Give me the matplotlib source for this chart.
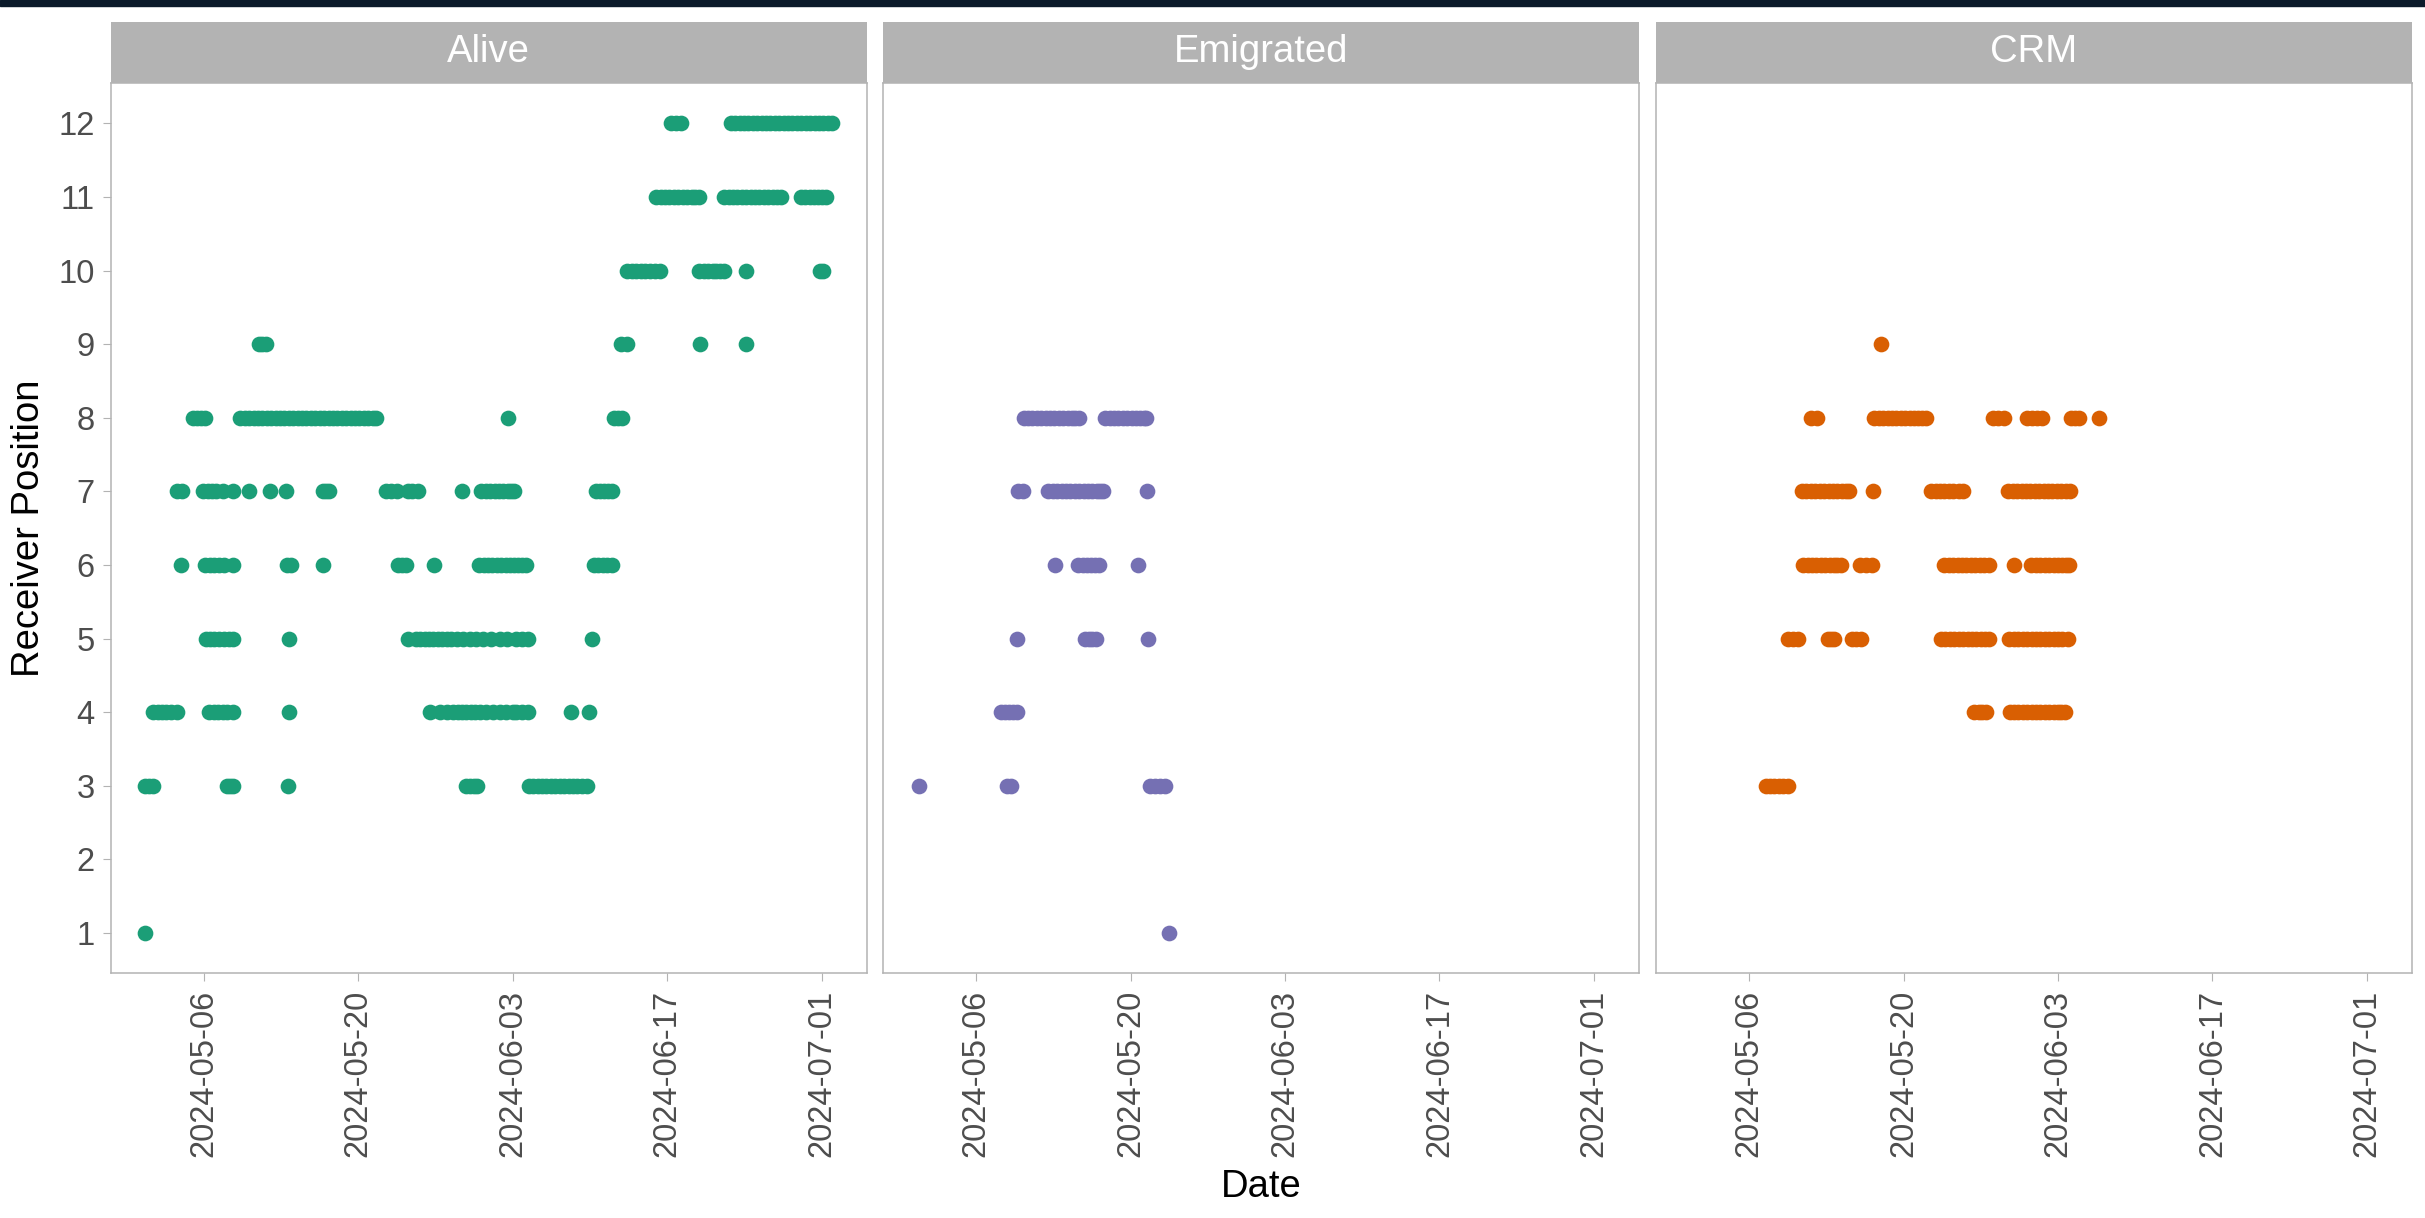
import pandas as pd
import matplotlib
matplotlib.use("Agg")
import matplotlib.pyplot as plt
import matplotlib.dates as mdates
from matplotlib.patches import Rectangle

plt.rcParams["font.family"] = ["Liberation Sans", "DejaVu Sans"]

# detection times, as days after 2024-05-01 00:00, grouped by receiver position
alive_rx1 = [-0.32]
alive_rx3 = [-0.3, 0.05, 0.43, 7.07, 7.35, 7.6, 12.65, 28.78, 29.15, 29.5, 29.8,
             34.46, 34.85, 35.25, 35.65, 36.05, 36.45, 36.85, 37.25, 37.65, 38.05,
             38.45, 38.85, 39.25, 39.77]
alive_rx4 = [0.43, 0.8, 1.2, 1.6, 2.0, 2.55, 5.5, 5.9, 6.3, 6.7, 7.1, 7.6, 12.68,
             25.47, 26.38, 27.0, 27.58, 28.0, 28.4, 28.8, 29.2, 29.6, 30.0, 30.6,
             31.2, 31.8, 32.4, 33.0, 33.3, 33.8, 34.34, 38.29, 39.95]
alive_rx5 = [5.15, 5.55, 5.95, 6.35, 6.8, 7.25, 7.65, 12.68, 23.54, 24.2, 24.6, 25.0,
             25.4, 25.8, 26.2, 26.6, 27.0, 27.4, 27.9, 28.5, 29.1, 29.7, 30.3, 31.0,
             31.8, 32.5, 33.3, 33.8, 34.34, 40.16]
alive_rx6 = [2.96, 5.14, 5.55, 5.95, 6.35, 6.8, 7.67, 12.5, 12.9, 15.82, 22.63, 23.0,
             23.36, 25.83, 29.93, 30.35, 30.75, 31.15, 31.55, 31.95, 32.35, 32.75,
             33.15, 33.5, 33.85, 34.22, 40.34, 40.75, 41.15, 41.55, 41.97]
alive_rx7 = [2.57, 3.05, 4.96, 5.35, 5.71, 6.1, 6.77, 7.67, 9.09, 10.99, 12.44, 15.76,
             16.05, 16.33, 21.55, 21.95, 22.46, 23.5, 23.9, 24.41, 28.37, 30.15, 30.55,
             30.95, 31.35, 31.75, 32.15, 32.55, 32.85, 33.13, 40.5, 40.9, 41.3, 41.65,
             42.03]
alive_rx8 = [4.0, 4.4, 4.75, 5.1, 8.3, 8.7, 9.1, 9.5, 9.9, 10.3, 10.7, 11.1, 11.5,
             11.9, 12.3, 12.7, 13.1, 13.5, 13.9, 14.3, 14.7, 15.1, 15.5, 15.9, 16.3,
             16.7, 17.1, 17.5, 17.9, 18.3, 18.7, 19.1, 19.5, 19.9, 20.3, 20.6, 32.56,
             42.15, 42.5, 42.87]
alive_rx9 = [10.02, 10.3, 10.6, 42.85, 43.36, 49.99, 54.13]
alive_rx10 = [43.36, 43.8, 44.2, 44.6, 45.0, 45.4, 45.85, 46.35, 49.9, 50.3, 50.7,
              51.1, 51.45, 51.8, 52.14, 54.13, 60.8, 61.14]
alive_rx11 = [45.99, 46.4, 46.8, 47.2, 47.6, 48.0, 48.4, 48.8, 49.2, 49.55, 49.88,
              52.17, 52.55, 52.95, 53.35, 53.75, 54.15, 54.55, 54.95, 55.35, 55.75,
              56.15, 56.55, 56.95, 57.35, 59.13, 59.5, 59.9, 60.3, 60.7, 61.05, 61.37]
alive_rx12 = [47.37, 47.8, 48.21, 52.77, 53.15, 53.55, 53.95, 54.35, 54.75, 55.15,
              55.55, 55.95, 56.35, 56.75, 57.15, 57.55, 57.95, 58.35, 58.75, 59.15,
              59.55, 59.95, 60.35, 60.75, 61.15, 61.55, 61.97]

emig_rx1 = [22.53]
emig_rx3 = [-0.13, 7.77, 8.19, 20.78, 21.2, 21.65, 22.11]
emig_rx4 = [7.23, 7.6, 8.0, 8.35, 8.71]
emig_rx5 = [8.68, 14.87, 15.2, 15.55, 15.86, 20.6]
emig_rx6 = [12.18, 14.26, 14.65, 15.05, 15.45, 15.8, 16.13, 19.64]
emig_rx7 = [8.77, 9.22, 11.54, 11.95, 12.35, 12.75, 13.15, 13.55, 13.95, 14.35,
            14.75, 15.15, 15.55, 15.95, 16.25, 16.52, 20.45]
emig_rx8 = [9.31, 9.7, 10.1, 10.5, 10.9, 11.3, 11.7, 12.1, 12.5, 12.9, 13.3, 13.7,
            14.0, 14.33, 16.7, 17.1, 17.5, 17.9, 18.3, 18.7, 19.1, 19.5, 19.9, 20.2,
            20.4]

crm_rx3 = [6.54, 6.9, 7.3, 7.7, 8.1, 8.53]
crm_rx4 = [25.39, 25.8, 26.1, 26.45, 28.62, 29.0, 29.4, 29.8, 30.2, 30.6, 31.0, 31.4,
           31.8, 32.2, 32.6, 33.0, 33.3, 33.6]
crm_rx5 = [8.56, 8.95, 9.41, 12.12, 12.45, 12.72, 14.29, 14.7, 15.16, 22.38, 22.8,
           23.2, 23.6, 24.0, 24.4, 24.8, 25.2, 25.6, 26.0, 26.35, 26.72, 28.6, 29.0,
           29.4, 29.8, 30.2, 30.6, 31.0, 31.4, 31.8, 32.2, 32.6, 33.0, 33.4, 33.9]
crm_rx6 = [9.89, 10.3, 10.7, 11.1, 11.5, 11.9, 12.3, 12.7, 13.0, 13.3, 15.05, 15.6,
           16.16, 22.68, 23.1, 23.5, 23.9, 24.3, 24.7, 25.1, 25.5, 25.9, 26.3, 26.72,
           28.98, 30.58, 31.0, 31.4, 31.8, 32.2, 32.6, 33.0, 33.4, 33.7, 34.02]
crm_rx7 = [9.8, 10.2, 10.6, 11.0, 11.4, 11.8, 12.2, 12.6, 13.0, 13.4, 13.75, 14.05,
           16.22, 21.47, 21.9, 22.3, 22.7, 23.1, 23.5, 24.0, 24.39, 28.47, 28.9, 29.3,
           29.7, 30.1, 30.5, 30.9, 31.3, 31.7, 32.1, 32.5, 32.9, 33.3, 33.7, 34.05]
crm_rx8 = [10.58, 11.13, 16.34, 16.75, 17.15, 17.55, 17.95, 18.35, 18.75, 19.15,
           19.55, 19.95, 20.35, 20.7, 21.08, 27.14, 27.6, 28.07, 30.16, 30.6, 31.1,
           31.55, 34.14, 34.5, 34.93, 36.7]
crm_rx9 = [16.92]

facet_names = ["Alive", "Emigrated", "CRM"]
facet_colors = ["#1b9e77", "#7570b3", "#d95f02"]
tick_dates = ["2024-05-06", "2024-05-20", "2024-06-03", "2024-06-17", "2024-07-01"]
positions = list(range(1, 13))
origin = pd.Timestamp("2024-05-01")

facets = {
    "Alive": {1: alive_rx1, 3: alive_rx3, 4: alive_rx4, 5: alive_rx5, 6: alive_rx6,
              7: alive_rx7, 8: alive_rx8, 9: alive_rx9, 10: alive_rx10,
              11: alive_rx11, 12: alive_rx12},
    "Emigrated": {1: emig_rx1, 3: emig_rx3, 4: emig_rx4, 5: emig_rx5, 6: emig_rx6,
                  7: emig_rx7, 8: emig_rx8},
    "CRM": {3: crm_rx3, 4: crm_rx4, 5: crm_rx5, 6: crm_rx6, 7: crm_rx7, 8: crm_rx8,
            9: crm_rx9},
}

rows = []
for name, groups in facets.items():
    for rx, days in groups.items():
        for d in days:
            rows.append((name, origin + pd.to_timedelta(d, unit="D"), rx))
df = pd.DataFrame(rows, columns=["fate", "date", "receiver"])

# shared x range with 5% padding either side
t0, t1 = df["date"].min(), df["date"].max()
pad = (t1 - t0) * 0.05
xlim = (t0 - pad, t1 + pad)

W, H = 2425, 1218
fig = plt.figure(figsize=(W / 100, H / 100), dpi=100)
fig.patches.append(Rectangle((0, 1 - 6 / H), 1, 6 / H, transform=fig.transFigure,
                             color="#0b1a2a", zorder=10))

grey = "#b3b3b3"
lefts = [110.8, 883, 1656]
pw = 756
top, bottom = 83, 973.3
strip_top = 22

for i, (name, col) in enumerate(zip(facet_names, facet_colors)):
    ax = fig.add_axes([lefts[i] / W, 1 - bottom / H, pw / W, (bottom - top) / H])
    sub = df[df["fate"] == name]
    ax.plot(sub["date"], sub["receiver"], "o", color=col, markersize=11.3,
            markeredgewidth=0, zorder=3)
    ax.set_xlim(xlim)
    ax.set_ylim(0.45, 12.55)
    ax.set_yticks(positions)
    ax.set_xticks([pd.Timestamp(t) for t in tick_dates])
    ax.xaxis.set_major_formatter(mdates.DateFormatter("%Y-%m-%d"))
    for s in ax.spines.values():
        s.set_color(grey)
        s.set_linewidth(1.1)
    ax.tick_params(axis="both", color=grey, width=0.8, length=5.8, pad=6,
                   labelsize=23.5, labelcolor="#4d4d4d")
    ax.tick_params(axis="x", labelrotation=90)
    if i > 0:
        ax.tick_params(axis="y", left=False, labelleft=False)

    sax = fig.add_axes([lefts[i] / W, 1 - top / H, pw / W, (top - strip_top) / H])
    sax.set_facecolor(grey)
    sax.set_xticks([])
    sax.set_yticks([])
    for s in sax.spines.values():
        s.set_visible(False)
    sax.text(0.5, 0.5, name, color="white", fontsize=27.5, ha="center",
             va="center", transform=sax.transAxes)

fig.text(29 / W, 1 - 528 / H, "Receiver Position", rotation=90, fontsize=27.5,
         ha="center", va="center")
fig.text(1261.5 / W, 1 - 1196.7 / H, "Date", fontsize=27.5, ha="center",
         va="baseline")

fig.savefig("out.png", dpi=100)
